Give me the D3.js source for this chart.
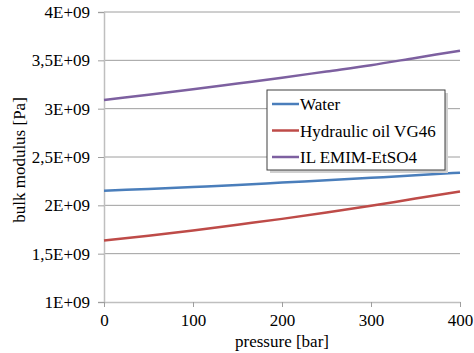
<!DOCTYPE html>
<html>
<head>
<meta charset="utf-8">
<script src="https://cdn.jsdelivr.net/npm/d3@7/dist/d3.min.js"></script>
<style>
  body { margin: 0; background: #fff; }
</style>
</head>
<body>
<div id="chart"></div>
<script>
// pressure in bar, bulk modulus in units of 1E+09 Pa
const pressure = [0, 50, 100, 150, 200, 250, 300, 350, 400];
const water = [2.15, 2.17, 2.19, 2.21, 2.235, 2.26, 2.285, 2.31, 2.338];
const oilVG46 = [1.635, 1.685, 1.74, 1.80, 1.86, 1.925, 1.995, 2.07, 2.142];
const ilEmim = [3.09, 3.145, 3.20, 3.26, 3.32, 3.385, 3.45, 3.525, 3.60];
const seriesNames = ['Water', 'Hydraulic oil VG46', 'IL EMIM-EtSO4'];
const yTicks = [1, 1.5, 2, 2.5, 3, 3.5, 4];
const yTickLabels = ['1E+09', '1,5E+09', '2E+09', '2,5E+09', '3E+09', '3,5E+09', '4E+09'];
const xTicks = [0, 100, 200, 300, 400];

const width = 474, height = 353;
const plotLeft = 104, plotRight = 460, plotTop = 12, plotBottom = 302;
const colors = ['#4a7ebb', '#be4b48', '#7d60a0'];
const font = 'Liberation Serif';
const fontSize = 17;

const svg = d3.select('#chart')
  .append('svg')
  .attr('width', width)
  .attr('height', height)
  .attr('font-family', font);

const x = d3.scaleLinear().domain([0, 400]).range([plotLeft, plotRight]);
const y = d3.scaleLinear().domain([1, 4]).range([plotBottom, plotTop]);

// horizontal gridlines
svg.append('g')
  .selectAll('line')
  .data(yTicks.slice(1))
  .enter()
  .append('line')
  .attr('x1', plotLeft)
  .attr('x2', plotRight)
  .attr('y1', d => y(d))
  .attr('y2', d => y(d))
  .attr('stroke', '#9e9e9e')
  .attr('stroke-width', 1);

// y axis
const yAxis = svg.append('g')
  .attr('transform', 'translate(' + plotLeft + ',0)')
  .call(d3.axisLeft(y).tickValues(yTicks).tickSize(6).tickPadding(8)
    .tickFormat((d, i) => yTickLabels[i]))
  .attr('font-family', font)
  .attr('font-size', fontSize);
yAxis.select('.domain').attr('stroke', '#bfbfbf').attr('stroke-width', 1.5);
yAxis.selectAll('.tick line').attr('stroke', '#9e9e9e');
yAxis.selectAll('text').attr('fill', '#000');

// x axis
const xAxis = svg.append('g')
  .attr('transform', 'translate(0,' + plotBottom + ')')
  .call(d3.axisBottom(x).tickValues(xTicks).tickSize(5).tickPadding(7).tickSizeOuter(0))
  .attr('font-family', font)
  .attr('font-size', fontSize);
xAxis.select('.domain').attr('stroke', '#bfbfbf').attr('stroke-width', 1.5);
xAxis.selectAll('.tick line').attr('stroke', '#9e9e9e');
xAxis.selectAll('text').attr('fill', '#000');

// axis titles
svg.append('text')
  .attr('x', (plotLeft + plotRight) / 2)
  .attr('y', 347)
  .attr('text-anchor', 'middle')
  .attr('font-size', fontSize)
  .text('pressure [bar]');

svg.append('text')
  .attr('transform', 'translate(25,' + ((plotTop + plotBottom) / 2 + 3) + ')rotate(-90)')
  .attr('text-anchor', 'middle')
  .attr('font-size', fontSize)
  .text('bulk modulus [Pa]');

// lines
const line = d3.line()
  .x((d, i) => x(pressure[i]))
  .y(d => y(d))
  .curve(d3.curveMonotoneX);

[water, oilVG46, ilEmim].forEach((s, i) => {
  svg.append('path')
    .datum(s)
    .attr('d', line)
    .attr('fill', 'none')
    .attr('stroke', colors[i])
    .attr('stroke-width', 2.5);
});

// legend
const lg = svg.append('g').attr('transform', 'translate(267,90)');
lg.append('rect')
  .attr('x', 3).attr('y', 3)
  .attr('width', 178).attr('height', 80)
  .attr('fill', '#d0d0d0');
lg.append('rect')
  .attr('x', 0).attr('y', 0)
  .attr('width', 178).attr('height', 80)
  .attr('fill', '#fff')
  .attr('stroke', '#404040')
  .attr('stroke-width', 1);

const items = lg.selectAll('.item')
  .data(seriesNames)
  .enter()
  .append('g')
  .attr('transform', (d, i) => 'translate(0,' + (14 + i * 26.5) + ')');
items.append('line')
  .attr('x1', 5).attr('x2', 32)
  .attr('y1', 0).attr('y2', 0)
  .attr('stroke', (d, i) => colors[i])
  .attr('stroke-width', 2.5);
items.append('text')
  .attr('x', 33)
  .attr('y', 6)
  .attr('font-size', fontSize)
  .text(d => d);
</script>
</body>
</html>
